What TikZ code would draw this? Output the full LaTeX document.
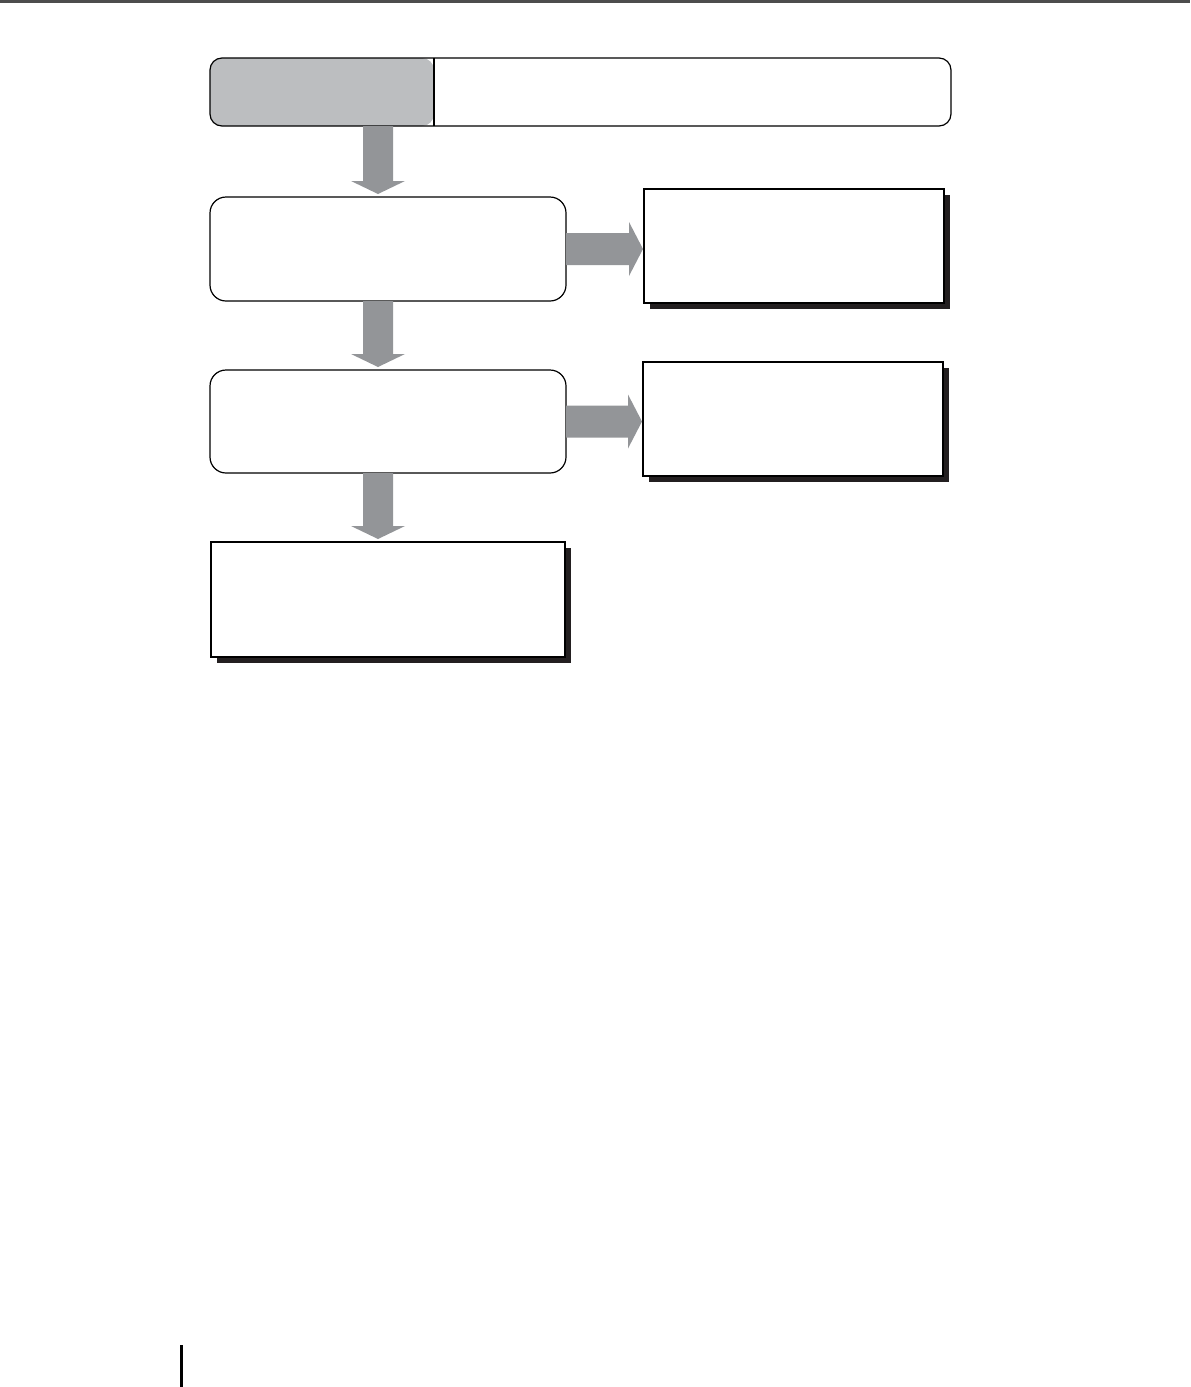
\documentclass[tikz,border=0pt]{standalone}
\usetikzlibrary{calc,shadows}
\definecolor{topgray}{RGB}{188,190,192}
\definecolor{blkgray}{RGB}{147,149,152}
\definecolor{shadowblk}{RGB}{35,31,32}
\definecolor{rulegray}{RGB}{77,77,77}
\newcommand\blkdown[2]{%
  \fill[blkgray] ([shift={(-15,0)}]#1) -- ([shift={(15,0)}]#1) -- ([shift={(15,-13)}]#2)
    -- ([shift={(27,-13)}]#2) -- (#2) -- ([shift={(-27,-13)}]#2) -- ([shift={(-15,-13)}]#2) -- cycle;}
\newcommand\blkright[2]{%
  \fill[blkgray] ([shift={(0,-16)}]#1) -- ([shift={(0,16)}]#1) -- ([shift={(-14,16)}]#2)
    -- ([shift={(-14,27)}]#2) -- (#2) -- ([shift={(-14,-27)}]#2) -- ([shift={(-14,-16)}]#2) -- cycle;}
\begin{document}
\begin{tikzpicture}[x=0.5pt,y=-0.5pt,
  rbox/.style={draw=black, line width=0.6pt, rounded corners=8pt, fill=white,
    inner sep=0pt, outer sep=0pt, minimum width=178pt},
  sbox/.style={draw=black, line width=0.6pt, fill=white, inner sep=0pt, outer sep=0pt,
    drop shadow={shadow xshift=3pt, shadow yshift=-3pt, fill=shadowblk, opacity=1}},
  ]
\useasboundingbox (0,0) rectangle (1190,1387);
% page rules
\fill[rulegray] (0,0) rectangle (1190,2.5);
\fill[black] (180,1345) rectangle (182.5,1387);
% top box
\node[draw=black, line width=0.6pt, rounded corners=6pt, inner sep=0pt, outer sep=0pt,
  minimum width=370.5pt, minimum height=34pt,
  path picture={
    \fill[topgray] (path picture bounding box.south west) rectangle ([xshift=112pt]path picture bounding box.north west);
    \draw[line width=0.6pt] ([xshift=112pt]path picture bounding box.south west) -- ([xshift=112pt]path picture bounding box.north west);
  }] (top) at (580.5,92) {};
% process boxes
\node[rbox, minimum height=52pt] (b2) at (388,249) {};
\node[rbox, minimum height=51.5pt] (b3) at (388,421.5) {};
% shadowed boxes
\node[sbox, minimum width=150pt, minimum height=57pt] (s1) at (794,246) {};
\node[sbox, minimum width=150pt, minimum height=57pt] (s2) at (793,419) {};
\node[sbox, minimum width=177pt, minimum height=57.5pt] (s3) at (388,599.5) {};
% arrow anchors
\coordinate (ax) at (378,0);
\path (top.south -| ax) coordinate (d1s);
\path (b2.north -| ax) ++(0,-3) coordinate (d1t);
\path (b2.south -| ax) coordinate (d2s);
\path (b3.north -| ax) ++(0,-3) coordinate (d2t);
\path (b3.south -| ax) coordinate (d3s);
\path (s3.north -| ax) ++(0,-3) coordinate (d3t);
\path (b2.east) coordinate (r1s);
\path (b2.east -| s1.west) ++(-1,0) coordinate (r1t);
\path (b3.east) coordinate (r2s);
\path (b3.east -| s2.west) ++(-1,0) coordinate (r2t);
% block arrows
\blkdown{d1s}{d1t}
\blkdown{d2s}{d2t}
\blkdown{d3s}{d3t}
\blkright{r1s}{r1t}
\blkright{r2s}{r2t}
\end{tikzpicture}
\end{document}
